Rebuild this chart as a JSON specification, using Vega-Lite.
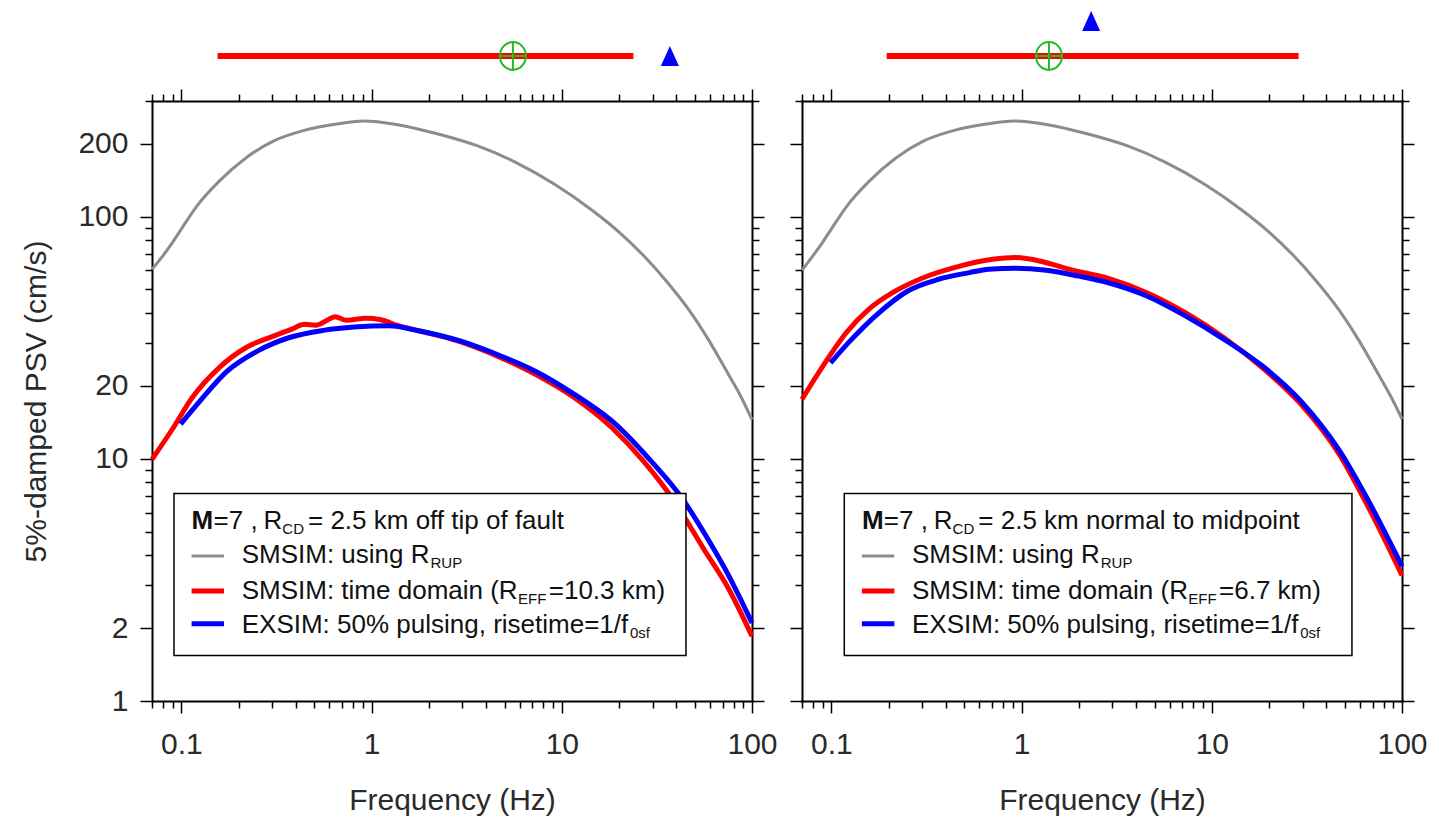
{
"$schema": "https://vega.github.io/schema/vega-lite/v6.json",
"padding": {"left": 21, "top": 10, "right": 12, "bottom": 3},
"bounds": "flush",
"spacing": 50,
"config": {
  "view": {"stroke": null},
  "font": "Liberation Sans",
  "axis": {"grid": false, "domainColor": "#000", "domainWidth": 2, "domainCap": "square", "tickColor": "#000", "tickWidth": 1.5,
           "labelFont": "Liberation Sans", "labelFontSize": 30, "labelColor": "#2a2a2a",
           "titleFont": "Liberation Sans", "titleFontSize": 30, "titleFontWeight": "normal", "titleColor": "#2a2a2a",
           "labelFlush": false, "labelOverlap": false, "zindex": 1}
},
"datasets": {
  "markers": [
    {"panel": "L", "lo": 0.1547, "hi": 23.8, "fc": 5.53, "ft": 37.0},
    {"panel": "R", "lo": 0.1952, "hi": 28.6, "fc": 1.392, "ft": 2.32}
  ],
  "curves": [
    {"panel":"L","series":"rup","freq":0.07,"psv":60.6},
    {"panel":"L","series":"rup","freq":0.08,"psv":69},
    {"panel":"L","series":"rup","freq":0.09,"psv":78.5},
    {"panel":"L","series":"rup","freq":0.1,"psv":89},
    {"panel":"L","series":"rup","freq":0.12,"psv":110},
    {"panel":"L","series":"rup","freq":0.158,"psv":140},
    {"panel":"L","series":"rup","freq":0.219,"psv":175},
    {"panel":"L","series":"rup","freq":0.304,"psv":205},
    {"panel":"L","series":"rup","freq":0.442,"psv":227},
    {"panel":"L","series":"rup","freq":0.641,"psv":240.5},
    {"panel":"L","series":"rup","freq":0.91,"psv":248},
    {"panel":"L","series":"rup","freq":1.35,"psv":240},
    {"panel":"L","series":"rup","freq":2.26,"psv":218.6},
    {"panel":"L","series":"rup","freq":3.61,"psv":195.7},
    {"panel":"L","series":"rup","freq":5.75,"psv":167},
    {"panel":"L","series":"rup","freq":9.16,"psv":136},
    {"panel":"L","series":"rup","freq":14.6,"psv":105.5},
    {"panel":"L","series":"rup","freq":20.2,"psv":85.7},
    {"panel":"L","series":"rup","freq":26.8,"psv":69.2},
    {"panel":"L","series":"rup","freq":35.4,"psv":54.2},
    {"panel":"L","series":"rup","freq":46.9,"psv":40.9},
    {"panel":"L","series":"rup","freq":59.2,"psv":30.9},
    {"panel":"L","series":"rup","freq":74.7,"psv":22.5},
    {"panel":"L","series":"rup","freq":87,"psv":18.2},
    {"panel":"L","series":"rup","freq":100,"psv":14.5},

    {"panel":"L","series":"td","freq":0.07,"psv":9.95},
    {"panel":"L","series":"td","freq":0.0904,"psv":13.4},
    {"panel":"L","series":"td","freq":0.114,"psv":17.9},
    {"panel":"L","series":"td","freq":0.158,"psv":23.8},
    {"panel":"L","series":"td","freq":0.219,"psv":28.8},
    {"panel":"L","series":"td","freq":0.304,"psv":32.1},
    {"panel":"L","series":"td","freq":0.38,"psv":34.3},
    {"panel":"L","series":"td","freq":0.442,"psv":35.9},
    {"panel":"L","series":"td","freq":0.508,"psv":35.6},
    {"panel":"L","series":"td","freq":0.58,"psv":37.2},
    {"panel":"L","series":"td","freq":0.641,"psv":38.6},
    {"panel":"L","series":"td","freq":0.738,"psv":37.3},
    {"panel":"L","series":"td","freq":0.93,"psv":38},
    {"panel":"L","series":"td","freq":1.12,"psv":37.5},
    {"panel":"L","series":"td","freq":1.35,"psv":35.6},
    {"panel":"L","series":"td","freq":1.79,"psv":33.7},
    {"panel":"L","series":"td","freq":2.86,"psv":30.6},
    {"panel":"L","series":"td","freq":4.55,"psv":26.6},
    {"panel":"L","series":"td","freq":7.26,"psv":22.3},
    {"panel":"L","series":"td","freq":11.6,"psv":17.9},
    {"panel":"L","series":"td","freq":18.4,"psv":13.4},
    {"panel":"L","series":"td","freq":26.8,"psv":9.8},
    {"panel":"L","series":"td","freq":38.9,"psv":6.7},
    {"panel":"L","series":"td","freq":56.6,"psv":4.16},
    {"panel":"L","series":"td","freq":74.7,"psv":2.94},
    {"panel":"L","series":"td","freq":100,"psv":1.85},

    {"panel":"L","series":"ex","freq":0.099,"psv":13.9},
    {"panel":"L","series":"ex","freq":0.125,"psv":17.3},
    {"panel":"L","series":"ex","freq":0.174,"psv":23.0},
    {"panel":"L","series":"ex","freq":0.252,"psv":27.9},
    {"panel":"L","series":"ex","freq":0.366,"psv":31.6},
    {"panel":"L","series":"ex","freq":0.557,"psv":33.9},
    {"panel":"L","series":"ex","freq":0.81,"psv":35.0},
    {"panel":"L","series":"ex","freq":1.23,"psv":35.4},
    {"panel":"L","series":"ex","freq":1.79,"psv":33.7},
    {"panel":"L","series":"ex","freq":2.86,"psv":30.8},
    {"panel":"L","series":"ex","freq":4.55,"psv":27.0},
    {"panel":"L","series":"ex","freq":7.26,"psv":23.0},
    {"panel":"L","series":"ex","freq":11.6,"psv":18.5},
    {"panel":"L","series":"ex","freq":18.4,"psv":14.3},
    {"panel":"L","series":"ex","freq":29.4,"psv":9.8},
    {"panel":"L","series":"ex","freq":42.7,"psv":6.9},
    {"panel":"L","series":"ex","freq":56.6,"psv":4.88},
    {"panel":"L","series":"ex","freq":74.7,"psv":3.34},
    {"panel":"L","series":"ex","freq":100,"psv":2.1},

    {"panel":"R","series":"rup","freq":0.07,"psv":60},
    {"panel":"R","series":"rup","freq":0.08,"psv":69},
    {"panel":"R","series":"rup","freq":0.09,"psv":78.5},
    {"panel":"R","series":"rup","freq":0.1,"psv":89},
    {"panel":"R","series":"rup","freq":0.12,"psv":110},
    {"panel":"R","series":"rup","freq":0.158,"psv":140},
    {"panel":"R","series":"rup","freq":0.219,"psv":175},
    {"panel":"R","series":"rup","freq":0.304,"psv":205},
    {"panel":"R","series":"rup","freq":0.442,"psv":227},
    {"panel":"R","series":"rup","freq":0.641,"psv":240.5},
    {"panel":"R","series":"rup","freq":0.91,"psv":248},
    {"panel":"R","series":"rup","freq":1.35,"psv":240},
    {"panel":"R","series":"rup","freq":2.26,"psv":218.6},
    {"panel":"R","series":"rup","freq":3.61,"psv":195.7},
    {"panel":"R","series":"rup","freq":5.75,"psv":167},
    {"panel":"R","series":"rup","freq":9.16,"psv":136},
    {"panel":"R","series":"rup","freq":14.6,"psv":105.5},
    {"panel":"R","series":"rup","freq":20.2,"psv":85.7},
    {"panel":"R","series":"rup","freq":26.8,"psv":69.2},
    {"panel":"R","series":"rup","freq":35.4,"psv":54.2},
    {"panel":"R","series":"rup","freq":46.9,"psv":40.9},
    {"panel":"R","series":"rup","freq":59.2,"psv":30.9},
    {"panel":"R","series":"rup","freq":74.7,"psv":22.5},
    {"panel":"R","series":"rup","freq":87,"psv":18.2},
    {"panel":"R","series":"rup","freq":100,"psv":14.6},

    {"panel":"R","series":"td","freq":0.07,"psv":17.6},
    {"panel":"R","series":"td","freq":0.0823,"psv":21.6},
    {"panel":"R","series":"td","freq":0.099,"psv":27.0},
    {"panel":"R","series":"td","freq":0.119,"psv":33.0},
    {"panel":"R","series":"td","freq":0.158,"psv":41.6},
    {"panel":"R","series":"td","freq":0.2095,"psv":48.5},
    {"panel":"R","series":"td","freq":0.304,"psv":55.9},
    {"panel":"R","series":"td","freq":0.442,"psv":61.5},
    {"panel":"R","series":"td","freq":0.704,"psv":66.6},
    {"panel":"R","series":"td","freq":0.93,"psv":67.7},
    {"panel":"R","series":"td","freq":1.29,"psv":65.1},
    {"panel":"R","series":"td","freq":1.79,"psv":60.5},
    {"panel":"R","series":"td","freq":2.86,"psv":55.6},
    {"panel":"R","series":"td","freq":4.55,"psv":48.5},
    {"panel":"R","series":"td","freq":7.26,"psv":40.1},
    {"panel":"R","series":"td","freq":11.6,"psv":31.6},
    {"panel":"R","series":"td","freq":18.4,"psv":23.8},
    {"panel":"R","series":"td","freq":29.4,"psv":16.8},
    {"panel":"R","series":"td","freq":46.9,"psv":10.4},
    {"panel":"R","series":"td","freq":68.1,"psv":6.09},
    {"panel":"R","series":"td","freq":100,"psv":3.3},

    {"panel":"R","series":"ex","freq":0.099,"psv":24.9},
    {"panel":"R","series":"ex","freq":0.125,"psv":30.6},
    {"panel":"R","series":"ex","freq":0.174,"psv":39.5},
    {"panel":"R","series":"ex","freq":0.252,"psv":49.3},
    {"panel":"R","series":"ex","freq":0.366,"psv":55.1},
    {"panel":"R","series":"ex","freq":0.532,"psv":58.7},
    {"panel":"R","series":"ex","freq":0.672,"psv":60.6},
    {"panel":"R","series":"ex","freq":0.93,"psv":61.2},
    {"panel":"R","series":"ex","freq":1.35,"psv":60},
    {"panel":"R","series":"ex","freq":1.97,"psv":56.9},
    {"panel":"R","series":"ex","freq":2.86,"psv":53.3},
    {"panel":"R","series":"ex","freq":4.55,"psv":47},
    {"panel":"R","series":"ex","freq":7.26,"psv":38.9},
    {"panel":"R","series":"ex","freq":11.6,"psv":31.1},
    {"panel":"R","series":"ex","freq":18.4,"psv":24.2},
    {"panel":"R","series":"ex","freq":29.4,"psv":17.3},
    {"panel":"R","series":"ex","freq":46.9,"psv":10.8},
    {"panel":"R","series":"ex","freq":68.1,"psv":6.49},
    {"panel":"R","series":"ex","freq":100,"psv":3.6}
  ]
},
"hconcat": [
{
  "width": 600, "height": 600,
  "resolve": {"axis": {"x": "independent", "y": "independent"}},
  "layer": [
    {"data": {"name": "curves"}, "transform": [{"filter": "datum.panel == 'L' && datum.series == 'rup'"}],
     "mark": {"type": "line", "color": "#8c8c8c", "strokeWidth": 3, "strokeJoin": "round", "interpolate": "monotone"},
     "encoding": {
       "x": {"field": "freq", "type": "quantitative", "scale": {"type": "log", "domain": [0.07, 100], "nice": false},
             "axis": {"orient": "bottom", "values": [0.07,0.08,0.09,0.1,0.2,0.3,0.4,0.5,0.6,0.7,0.8,0.9,1,2,3,4,5,6,7,8,9,10,20,30,40,50,60,70,80,90,100],
                      "format": "~g", "labelExpr": "indexof([0.1,1,10,100], datum.value) >= 0 ? datum.label : ''",
                      "tickSize": {"condition": {"test": "indexof([0.1,1,10,100], datum.value) >= 0", "value": 12}, "value": 7},
                      "labelPadding": 16, "title": "Frequency (Hz)", "titlePadding": 26}},
       "y": {"field": "psv", "type": "quantitative", "scale": {"type": "log", "domain": [1, 300], "nice": false},
             "axis": {"orient": "left", "values": [1,2,3,4,5,6,7,8,9,10,20,30,40,50,60,70,80,90,100,200,300],
                      "format": "~g", "labelExpr": "indexof([1,2,10,20,100,200], datum.value) >= 0 ? datum.label : ''",
                      "tickSize": {"condition": {"test": "indexof([1,2,10,20,100,200], datum.value) >= 0", "value": 12}, "value": 7},
                      "labelPadding": 12, "title": "5%-damped PSV (cm/s)", "titlePadding": 26}}
     }},
    {"data": {"name": "curves"}, "transform": [{"filter": "datum.panel == 'L' && datum.series == 'td'"}],
     "mark": {"type": "line", "color": "#ff0000", "strokeWidth": 5, "strokeJoin": "round", "interpolate": "monotone"},
     "encoding": {
       "x": {"field": "freq", "type": "quantitative", "scale": {"type": "log", "domain": [0.07, 100], "nice": false}, "axis": null},
       "y": {"field": "psv", "type": "quantitative", "scale": {"type": "log", "domain": [1, 300], "nice": false}, "axis": null}}},
    {"data": {"name": "curves"}, "transform": [{"filter": "datum.panel == 'L' && datum.series == 'ex'"}],
     "mark": {"type": "line", "color": "#0000ff", "strokeWidth": 5, "strokeJoin": "round", "interpolate": "monotone"},
     "encoding": {
       "x": {"field": "freq", "type": "quantitative", "scale": {"type": "log", "domain": [0.07, 100], "nice": false}, "axis": null},
       "y": {"field": "psv", "type": "quantitative", "scale": {"type": "log", "domain": [1, 300], "nice": false}, "axis": null}}},
    {"data": {"name": "curves"}, "transform": [{"filter": "datum.panel == 'L' && datum.series == 'rup'"}],
     "mark": {"type": "point", "opacity": 0},
     "encoding": {
       "x": {"field": "freq", "type": "quantitative", "scale": {"type": "log", "domain": [0.07, 100], "nice": false},
             "axis": {"orient": "top", "values": [0.07,0.08,0.09,0.1,0.2,0.3,0.4,0.5,0.6,0.7,0.8,0.9,1,2,3,4,5,6,7,8,9,10,20,30,40,50,60,70,80,90,100],
                      "labels": false, "title": null,
                      "tickSize": {"condition": {"test": "indexof([0.1,1,10,100], datum.value) >= 0", "value": 12}, "value": 7}}},
       "y": {"field": "psv", "type": "quantitative", "scale": {"type": "log", "domain": [1, 300], "nice": false},
             "axis": {"orient": "right", "values": [1,2,3,4,5,6,7,8,9,10,20,30,40,50,60,70,80,90,100,200,300],
                      "labels": false, "title": null,
                      "tickSize": {"condition": {"test": "indexof([1,2,10,20,100,200], datum.value) >= 0", "value": 12}, "value": 7}}}}},
    {"data": {"name": "markers"}, "transform": [{"filter": "datum.panel == 'L'"}],
     "mark": {"type": "rule", "color": "#ff0000", "strokeWidth": 6},
     "encoding": {
       "x": {"field": "lo", "type": "quantitative", "scale": {"type": "log", "domain": [0.07, 100], "nice": false}, "axis": null},
       "x2": {"field": "hi"},
       "y": {"datum": 460.3, "type": "quantitative", "scale": {"type": "log", "domain": [1, 300], "nice": false}, "axis": null}}},
    {"data": {"name": "markers"}, "transform": [{"filter": "datum.panel == 'L'"}],
     "mark": {"type": "point", "shape": "M-1,0A1,1.07,0,1,1,1,0A1,1.07,0,1,1,-1,0ZM-1,0L1,0M0,-1.07L0,1.07", "size": 676, "filled": false, "stroke": "#22bb22", "strokeWidth": 2, "opacity": 1},
     "encoding": {
       "x": {"field": "fc", "type": "quantitative", "scale": {"type": "log", "domain": [0.07, 100], "nice": false}, "axis": null},
       "y": {"datum": 460.3, "type": "quantitative", "scale": {"type": "log", "domain": [1, 300], "nice": false}, "axis": null}}},
    {"data": {"name": "markers"}, "transform": [{"filter": "datum.panel == 'L'"}],
     "mark": {"type": "point", "shape": "M0,-1L-0.9,1L0.9,1Z", "size": 400, "filled": true, "color": "#0000ff", "opacity": 1},
     "encoding": {
       "x": {"field": "ft", "type": "quantitative", "scale": {"type": "log", "domain": [0.07, 100], "nice": false}, "axis": null},
       "y": {"datum": 460.3, "type": "quantitative", "scale": {"type": "log", "domain": [1, 300], "nice": false}, "axis": null}}},
    {"data": {"values": [{}]},
     "mark": {"type": "rect", "fill": "#ffffff", "stroke": "#000000", "strokeWidth": 1.5},
     "encoding": {
       "x": {"datum": 0.09136, "type": "quantitative", "scale": {"type": "log", "domain": [0.07, 100], "nice": false}, "axis": null},
       "x2": {"datum": 44.95},
       "y": {"datum": 7.19, "type": "quantitative", "scale": {"type": "log", "domain": [1, 300], "nice": false}, "axis": null},
       "y2": {"datum": 1.541}}},
    {"data": {"values": [{}]}, "mark": {"type": "rule", "color": "#8c8c8c", "strokeWidth": 3},
     "encoding": {"x": {"datum": 0.11304, "type": "quantitative", "scale": {"type": "log"}, "axis": null}, "x2": {"datum": 0.16738},
                  "y": {"datum": 3.968, "type": "quantitative", "scale": {"type": "log"}, "axis": null}}},
    {"data": {"values": [{}]}, "mark": {"type": "rule", "color": "#ff0000", "strokeWidth": 5},
     "encoding": {"x": {"datum": 0.11304, "type": "quantitative", "scale": {"type": "log"}, "axis": null}, "x2": {"datum": 0.16738},
                  "y": {"datum": 2.846, "type": "quantitative", "scale": {"type": "log"}, "axis": null}}},
    {"data": {"values": [{}]}, "mark": {"type": "rule", "color": "#0000ff", "strokeWidth": 5},
     "encoding": {"x": {"datum": 0.11304, "type": "quantitative", "scale": {"type": "log"}, "axis": null}, "x2": {"datum": 0.16738},
                  "y": {"datum": 2.085, "type": "quantitative", "scale": {"type": "log"}, "axis": null}}},
    {"data": {"values": [{}]}, "mark": {"type": "text", "text": "M", "fontWeight": "bold", "fontSize": 26, "align": "left", "baseline": "alphabetic", "color": "#111"},
     "encoding": {"x": {"datum": 0.11304, "type": "quantitative", "scale": {"type": "log"}, "axis": null}, "y": {"datum": 5.116, "type": "quantitative", "scale": {"type": "log"}, "axis": null}}},
    {"data": {"values": [{}]}, "mark": {"type": "text", "text": "=7 ,", "fontSize": 26, "align": "left", "baseline": "alphabetic", "color": "#111"},
     "encoding": {"x": {"datum": 0.14745, "type": "quantitative", "scale": {"type": "log"}, "axis": null}, "y": {"datum": 5.116, "type": "quantitative", "scale": {"type": "log"}, "axis": null}}},
    {"data": {"values": [{}]}, "mark": {"type": "text", "text": "R", "fontSize": 26, "align": "left", "baseline": "alphabetic", "color": "#111"},
     "encoding": {"x": {"datum": 0.27005, "type": "quantitative", "scale": {"type": "log"}, "axis": null}, "y": {"datum": 5.116, "type": "quantitative", "scale": {"type": "log"}, "axis": null}}},
    {"data": {"values": [{}]}, "mark": {"type": "text", "text": "CD", "fontSize": 15, "align": "left", "baseline": "alphabetic", "color": "#111"},
     "encoding": {"x": {"datum": 0.33901, "type": "quantitative", "scale": {"type": "log"}, "axis": null}, "y": {"datum": 4.879, "type": "quantitative", "scale": {"type": "log"}, "axis": null}}},
    {"data": {"values": [{}]}, "mark": {"type": "text", "text": "= 2.5 km off tip of fault", "fontSize": 26, "align": "left", "baseline": "alphabetic", "color": "#111"},
     "encoding": {"x": {"datum": 0.46263, "type": "quantitative", "scale": {"type": "log"}, "axis": null}, "y": {"datum": 5.116, "type": "quantitative", "scale": {"type": "log"}, "axis": null}}},
    {"data": {"values": [{}]}, "mark": {"type": "text", "text": "SMSIM: using R", "fontSize": 26, "align": "left", "baseline": "alphabetic", "color": "#111"},
     "encoding": {"x": {"datum": 0.20738, "type": "quantitative", "scale": {"type": "log"}, "axis": null}, "y": {"datum": 3.724, "type": "quantitative", "scale": {"type": "log"}, "axis": null}}},
    {"data": {"values": [{}]}, "mark": {"type": "text", "text": "RUP", "fontSize": 15, "align": "left", "baseline": "alphabetic", "color": "#111"},
     "encoding": {"x": {"datum": 2.0387, "type": "quantitative", "scale": {"type": "log"}, "axis": null}, "y": {"datum": 3.551, "type": "quantitative", "scale": {"type": "log"}, "axis": null}}},
    {"data": {"values": [{}]}, "mark": {"type": "text", "text": "SMSIM: time domain (R", "fontSize": 26, "align": "left", "baseline": "alphabetic", "color": "#111"},
     "encoding": {"x": {"datum": 0.20738, "type": "quantitative", "scale": {"type": "log"}, "axis": null}, "y": {"datum": 2.645, "type": "quantitative", "scale": {"type": "log"}, "axis": null}}},
    {"data": {"values": [{}]}, "mark": {"type": "text", "text": "EFF", "fontSize": 15, "align": "left", "baseline": "alphabetic", "color": "#111"},
     "encoding": {"x": {"datum": 5.8802, "type": "quantitative", "scale": {"type": "log"}, "axis": null}, "y": {"datum": 2.521, "type": "quantitative", "scale": {"type": "log"}, "axis": null}}},
    {"data": {"values": [{}]}, "mark": {"type": "text", "text": "=10.3 km)", "fontSize": 26, "align": "left", "baseline": "alphabetic", "color": "#111"},
     "encoding": {"x": {"datum": 8.5358, "type": "quantitative", "scale": {"type": "log"}, "axis": null}, "y": {"datum": 2.645, "type": "quantitative", "scale": {"type": "log"}, "axis": null}}},
    {"data": {"values": [{}]}, "mark": {"type": "text", "text": "EXSIM: 50% pulsing, risetime=1/f", "fontSize": 26, "align": "left", "baseline": "alphabetic", "color": "#111"},
     "encoding": {"x": {"datum": 0.20738, "type": "quantitative", "scale": {"type": "log"}, "axis": null}, "y": {"datum": 1.914, "type": "quantitative", "scale": {"type": "log"}, "axis": null}}},
    {"data": {"values": [{}]}, "mark": {"type": "text", "text": "0sf", "fontSize": 15, "align": "left", "baseline": "alphabetic", "color": "#111"},
     "encoding": {"x": {"datum": 22.82, "type": "quantitative", "scale": {"type": "log"}, "axis": null}, "y": {"datum": 1.826, "type": "quantitative", "scale": {"type": "log"}, "axis": null}}}
  ]
},
{
  "width": 600, "height": 600,
  "resolve": {"axis": {"x": "independent", "y": "independent"}},
  "layer": [
    {"data": {"name": "curves"}, "transform": [{"filter": "datum.panel == 'R' && datum.series == 'rup'"}],
     "mark": {"type": "line", "color": "#8c8c8c", "strokeWidth": 3, "strokeJoin": "round", "interpolate": "monotone"},
     "encoding": {
       "x": {"field": "freq", "type": "quantitative", "scale": {"type": "log", "domain": [0.07, 100], "nice": false},
             "axis": {"orient": "bottom", "values": [0.07,0.08,0.09,0.1,0.2,0.3,0.4,0.5,0.6,0.7,0.8,0.9,1,2,3,4,5,6,7,8,9,10,20,30,40,50,60,70,80,90,100],
                      "format": "~g", "labelExpr": "indexof([0.1,1,10,100], datum.value) >= 0 ? datum.label : ''",
                      "tickSize": {"condition": {"test": "indexof([0.1,1,10,100], datum.value) >= 0", "value": 12}, "value": 7},
                      "labelPadding": 16, "title": "Frequency (Hz)", "titlePadding": 26}},
       "y": {"field": "psv", "type": "quantitative", "scale": {"type": "log", "domain": [1, 300], "nice": false},
             "axis": {"orient": "left", "values": [1,2,3,4,5,6,7,8,9,10,20,30,40,50,60,70,80,90,100,200,300],
                      "labels": false, "title": null,
                      "tickSize": {"condition": {"test": "indexof([1,2,10,20,100,200], datum.value) >= 0", "value": 12}, "value": 7}}}
     }},
    {"data": {"name": "curves"}, "transform": [{"filter": "datum.panel == 'R' && datum.series == 'td'"}],
     "mark": {"type": "line", "color": "#ff0000", "strokeWidth": 5, "strokeJoin": "round", "interpolate": "monotone"},
     "encoding": {
       "x": {"field": "freq", "type": "quantitative", "scale": {"type": "log", "domain": [0.07, 100], "nice": false}, "axis": null},
       "y": {"field": "psv", "type": "quantitative", "scale": {"type": "log", "domain": [1, 300], "nice": false}, "axis": null}}},
    {"data": {"name": "curves"}, "transform": [{"filter": "datum.panel == 'R' && datum.series == 'ex'"}],
     "mark": {"type": "line", "color": "#0000ff", "strokeWidth": 5, "strokeJoin": "round", "interpolate": "monotone"},
     "encoding": {
       "x": {"field": "freq", "type": "quantitative", "scale": {"type": "log", "domain": [0.07, 100], "nice": false}, "axis": null},
       "y": {"field": "psv", "type": "quantitative", "scale": {"type": "log", "domain": [1, 300], "nice": false}, "axis": null}}},
    {"data": {"name": "curves"}, "transform": [{"filter": "datum.panel == 'R' && datum.series == 'rup'"}],
     "mark": {"type": "point", "opacity": 0},
     "encoding": {
       "x": {"field": "freq", "type": "quantitative", "scale": {"type": "log", "domain": [0.07, 100], "nice": false},
             "axis": {"orient": "top", "values": [0.07,0.08,0.09,0.1,0.2,0.3,0.4,0.5,0.6,0.7,0.8,0.9,1,2,3,4,5,6,7,8,9,10,20,30,40,50,60,70,80,90,100],
                      "labels": false, "title": null,
                      "tickSize": {"condition": {"test": "indexof([0.1,1,10,100], datum.value) >= 0", "value": 12}, "value": 7}}},
       "y": {"field": "psv", "type": "quantitative", "scale": {"type": "log", "domain": [1, 300], "nice": false},
             "axis": {"orient": "right", "values": [1,2,3,4,5,6,7,8,9,10,20,30,40,50,60,70,80,90,100,200,300],
                      "labels": false, "title": null,
                      "tickSize": {"condition": {"test": "indexof([1,2,10,20,100,200], datum.value) >= 0", "value": 12}, "value": 7}}}}},
    {"data": {"name": "markers"}, "transform": [{"filter": "datum.panel == 'R'"}],
     "mark": {"type": "rule", "color": "#ff0000", "strokeWidth": 6},
     "encoding": {
       "x": {"field": "lo", "type": "quantitative", "scale": {"type": "log", "domain": [0.07, 100], "nice": false}, "axis": null},
       "x2": {"field": "hi"},
       "y": {"datum": 460.3, "type": "quantitative", "scale": {"type": "log", "domain": [1, 300], "nice": false}, "axis": null}}},
    {"data": {"name": "markers"}, "transform": [{"filter": "datum.panel == 'R'"}],
     "mark": {"type": "point", "shape": "M-1,0A1,1.07,0,1,1,1,0A1,1.07,0,1,1,-1,0ZM-1,0L1,0M0,-1.07L0,1.07", "size": 676, "filled": false, "stroke": "#22bb22", "strokeWidth": 2, "opacity": 1},
     "encoding": {
       "x": {"field": "fc", "type": "quantitative", "scale": {"type": "log", "domain": [0.07, 100], "nice": false}, "axis": null},
       "y": {"datum": 460.3, "type": "quantitative", "scale": {"type": "log", "domain": [1, 300], "nice": false}, "axis": null}}},
    {"data": {"name": "markers"}, "transform": [{"filter": "datum.panel == 'R'"}],
     "mark": {"type": "point", "shape": "M0,-1L-0.9,1L0.9,1Z", "size": 400, "filled": true, "color": "#0000ff", "opacity": 1},
     "encoding": {
       "x": {"field": "ft", "type": "quantitative", "scale": {"type": "log", "domain": [0.07, 100], "nice": false}, "axis": null},
       "y": {"datum": 642.2, "type": "quantitative", "scale": {"type": "log", "domain": [1, 300], "nice": false}, "axis": null}}},
    {"data": {"values": [{}]},
     "mark": {"type": "rect", "fill": "#ffffff", "stroke": "#000000", "strokeWidth": 1.5},
     "encoding": {
       "x": {"datum": 0.1168, "type": "quantitative", "scale": {"type": "log", "domain": [0.07, 100], "nice": false}, "axis": null},
       "x2": {"datum": 54.55},
       "y": {"datum": 7.19, "type": "quantitative", "scale": {"type": "log", "domain": [1, 300], "nice": false}, "axis": null},
       "y2": {"datum": 1.541}}},
    {"data": {"values": [{}]}, "mark": {"type": "rule", "color": "#8c8c8c", "strokeWidth": 3},
     "encoding": {"x": {"datum": 0.14456, "type": "quantitative", "scale": {"type": "log"}, "axis": null}, "x2": {"datum": 0.21401},
                  "y": {"datum": 3.968, "type": "quantitative", "scale": {"type": "log"}, "axis": null}}},
    {"data": {"values": [{}]}, "mark": {"type": "rule", "color": "#ff0000", "strokeWidth": 5},
     "encoding": {"x": {"datum": 0.14456, "type": "quantitative", "scale": {"type": "log"}, "axis": null}, "x2": {"datum": 0.21401},
                  "y": {"datum": 2.846, "type": "quantitative", "scale": {"type": "log"}, "axis": null}}},
    {"data": {"values": [{}]}, "mark": {"type": "rule", "color": "#0000ff", "strokeWidth": 5},
     "encoding": {"x": {"datum": 0.14456, "type": "quantitative", "scale": {"type": "log"}, "axis": null}, "x2": {"datum": 0.21401},
                  "y": {"datum": 2.085, "type": "quantitative", "scale": {"type": "log"}, "axis": null}}},
    {"data": {"values": [{}]}, "mark": {"type": "text", "text": "M", "fontWeight": "bold", "fontSize": 26, "align": "left", "baseline": "alphabetic", "color": "#111"},
     "encoding": {"x": {"datum": 0.14456, "type": "quantitative", "scale": {"type": "log"}, "axis": null}, "y": {"datum": 5.116, "type": "quantitative", "scale": {"type": "log"}, "axis": null}}},
    {"data": {"values": [{}]}, "mark": {"type": "text", "text": "=7 ,", "fontSize": 26, "align": "left", "baseline": "alphabetic", "color": "#111"},
     "encoding": {"x": {"datum": 0.18847, "type": "quantitative", "scale": {"type": "log"}, "axis": null}, "y": {"datum": 5.116, "type": "quantitative", "scale": {"type": "log"}, "axis": null}}},
    {"data": {"values": [{}]}, "mark": {"type": "text", "text": "R", "fontSize": 26, "align": "left", "baseline": "alphabetic", "color": "#111"},
     "encoding": {"x": {"datum": 0.34521, "type": "quantitative", "scale": {"type": "log"}, "axis": null}, "y": {"datum": 5.116, "type": "quantitative", "scale": {"type": "log"}, "axis": null}}},
    {"data": {"values": [{}]}, "mark": {"type": "text", "text": "CD", "fontSize": 15, "align": "left", "baseline": "alphabetic", "color": "#111"},
     "encoding": {"x": {"datum": 0.43336, "type": "quantitative", "scale": {"type": "log"}, "axis": null}, "y": {"datum": 4.879, "type": "quantitative", "scale": {"type": "log"}, "axis": null}}},
    {"data": {"values": [{}]}, "mark": {"type": "text", "text": "= 2.5 km normal to midpoint", "fontSize": 26, "align": "left", "baseline": "alphabetic", "color": "#111"},
     "encoding": {"x": {"datum": 0.59168, "type": "quantitative", "scale": {"type": "log"}, "axis": null}, "y": {"datum": 5.116, "type": "quantitative", "scale": {"type": "log"}, "axis": null}}},
    {"data": {"values": [{}]}, "mark": {"type": "text", "text": "SMSIM: using R", "fontSize": 26, "align": "left", "baseline": "alphabetic", "color": "#111"},
     "encoding": {"x": {"datum": 0.26517, "type": "quantitative", "scale": {"type": "log"}, "axis": null}, "y": {"datum": 3.724, "type": "quantitative", "scale": {"type": "log"}, "axis": null}}},
    {"data": {"values": [{}]}, "mark": {"type": "text", "text": "RUP", "fontSize": 15, "align": "left", "baseline": "alphabetic", "color": "#111"},
     "encoding": {"x": {"datum": 2.6068, "type": "quantitative", "scale": {"type": "log"}, "axis": null}, "y": {"datum": 3.551, "type": "quantitative", "scale": {"type": "log"}, "axis": null}}},
    {"data": {"values": [{}]}, "mark": {"type": "text", "text": "SMSIM: time domain (R", "fontSize": 26, "align": "left", "baseline": "alphabetic", "color": "#111"},
     "encoding": {"x": {"datum": 0.26517, "type": "quantitative", "scale": {"type": "log"}, "axis": null}, "y": {"datum": 2.645, "type": "quantitative", "scale": {"type": "log"}, "axis": null}}},
    {"data": {"values": [{}]}, "mark": {"type": "text", "text": "EFF", "fontSize": 15, "align": "left", "baseline": "alphabetic", "color": "#111"},
     "encoding": {"x": {"datum": 7.5165, "type": "quantitative", "scale": {"type": "log"}, "axis": null}, "y": {"datum": 2.521, "type": "quantitative", "scale": {"type": "log"}, "axis": null}}},
    {"data": {"values": [{}]}, "mark": {"type": "text", "text": "=6.7 km)", "fontSize": 26, "align": "left", "baseline": "alphabetic", "color": "#111"},
     "encoding": {"x": {"datum": 10.916, "type": "quantitative", "scale": {"type": "log"}, "axis": null}, "y": {"datum": 2.645, "type": "quantitative", "scale": {"type": "log"}, "axis": null}}},
    {"data": {"values": [{}]}, "mark": {"type": "text", "text": "EXSIM: 50% pulsing, risetime=1/f", "fontSize": 26, "align": "left", "baseline": "alphabetic", "color": "#111"},
     "encoding": {"x": {"datum": 0.26517, "type": "quantitative", "scale": {"type": "log"}, "axis": null}, "y": {"datum": 1.914, "type": "quantitative", "scale": {"type": "log"}, "axis": null}}},
    {"data": {"values": [{}]}, "mark": {"type": "text", "text": "0sf", "fontSize": 15, "align": "left", "baseline": "alphabetic", "color": "#111"},
     "encoding": {"x": {"datum": 29.17, "type": "quantitative", "scale": {"type": "log"}, "axis": null}, "y": {"datum": 1.826, "type": "quantitative", "scale": {"type": "log"}, "axis": null}}}
  ]
}
]
}
